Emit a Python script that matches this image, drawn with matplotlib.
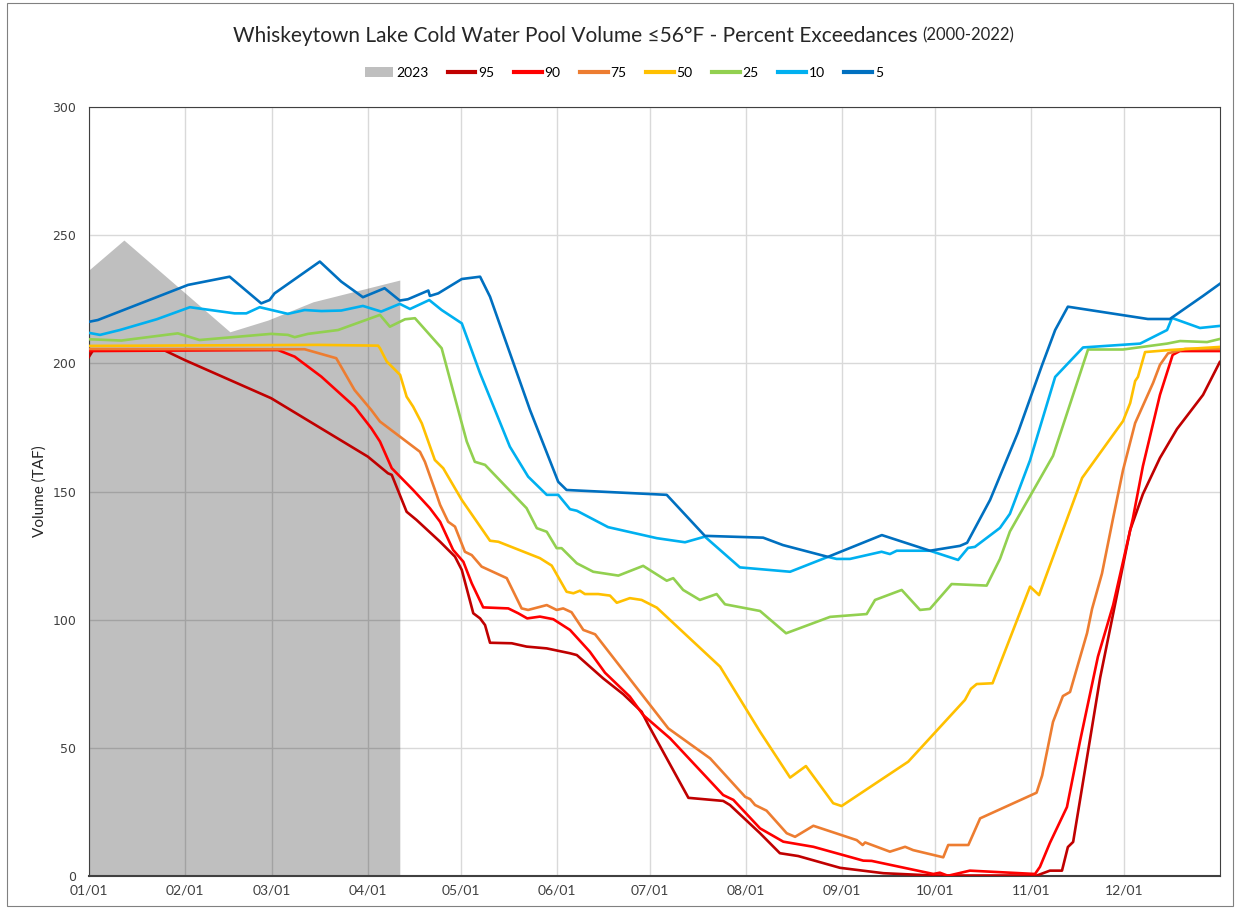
import numpy as np
import matplotlib.pyplot as plt
from matplotlib.patches import Rectangle

plt.rcParams['font.family'] = ['Lato', 'DejaVu Sans']

# x = day of year (0 = Jan 1), y = volume (TAF)
month_days = [0, 31, 59, 90, 120, 151, 181, 212, 243, 273, 304, 334]
month_labels = ['01/01', '02/01', '03/01', '04/01', '05/01', '06/01',
                '07/01', '08/01', '09/01', '10/01', '11/01', '12/01']

d2023 = [0, 11.3, 45.5, 57.8, 72.3, 100.3]
v2023 = [236.4, 248.1, 212.3, 216.9, 224.0, 232.5]

d95 = [0, 1.3, 24.5, 30.9, 58.8, 90.0, 96.5, 97.7, 102.5, 105.7, 113.3, 118.1, 120.3,
       124.0, 126.2, 127.8, 129.4, 136.4, 141.2, 147.7, 155.2, 157.4, 165.9, 172.4,
       178.3, 180.5, 193.4, 204.6, 206.8, 216.5, 222.9, 228.8, 242.3, 256.3, 272.4,
       305.8, 310.0, 313.9, 315.8, 317.5, 326.2, 335.9, 340.0, 345.5, 351.0, 359.4, 364.8]
v95 = [202.5, 205.0, 205.0, 201.3, 186.4, 163.6, 157.1, 156.5, 142.1, 138.9, 130.4, 124.6, 119.4,
       102.5, 100.5, 97.9, 91.0, 90.8, 89.5, 88.8, 86.9, 86.2, 77.1, 70.9,
       64.1, 58.9, 30.5, 29.3, 27.7, 16.7, 8.9, 7.8, 3.2, 1.1, 0.2,
       0.2, 2.1, 2.1, 11.3, 13.3, 77.3, 135.0, 149.0, 163.1, 174.4, 187.7, 200.5]

d90 = [0, 61.0, 66.4, 75.0, 85.7, 91.1, 93.9, 97.7, 104.6, 110.0, 113.3, 117.5, 120.8,
       123.5, 127.2, 135.3, 138.5, 141.4, 145.5, 149.8, 155.2, 161.6, 166.5, 174.5,
       178.8, 187.5, 204.6, 207.9, 216.5, 224.0, 233.7, 249.8, 252.5, 272.4, 274.5,
       277.1, 284.2, 305.2, 306.8, 310.0, 315.5, 319.7, 325.5, 330.4, 336.8, 340.0,
       345.5, 349.6, 351.9, 364.8]
v90 = [204.8, 205.2, 202.6, 194.8, 183.1, 174.7, 169.5, 159.1, 150.6, 143.5, 138.2, 127.2, 122.6,
       114.2, 104.8, 104.4, 102.5, 100.5, 101.2, 100.2, 96.0, 87.5, 79.3, 70.0,
       62.8, 53.7, 31.6, 29.7, 18.6, 13.4, 11.4, 6.0, 5.9, 0.8, 1.3,
       0.1, 2.1, 0.8, 3.6, 12.9, 26.9, 52.5, 85.6, 105.7, 139.7, 159.9,
       187.7, 203.3, 204.8, 204.8]

d75 = [0, 69.6, 79.8, 85.7, 91.1, 93.9, 106.8, 108.4, 112.2, 113.3, 115.9, 118.1, 121.3,
       123.5, 126.7, 134.8, 139.6, 141.7, 147.7, 150.9, 153.0, 155.7, 159.5, 163.3,
       186.9, 200.4, 211.7, 213.3, 214.9, 218.6, 225.1, 227.8, 233.7, 247.7, 249.6,
       250.4, 258.4, 263.3, 265.9, 275.6, 277.2, 283.7, 287.5, 305.7, 307.5, 311.0,
       314.2, 316.5, 322.0, 323.6, 326.8, 330.4, 333.6, 337.5, 343.3, 345.5, 348.1,
       353.6, 364.8]
v75 = [205.6, 205.5, 202.0, 189.6, 181.8, 177.3, 165.5, 161.6, 148.7, 144.8, 138.2, 136.3, 126.5,
       125.2, 120.7, 116.2, 104.4, 103.8, 105.7, 103.8, 104.4, 102.9, 96.0, 94.3,
       57.6, 45.9, 30.9, 30.0, 27.7, 25.5, 16.7, 15.3, 19.6, 14.0, 12.1,
       13.1, 9.5, 11.4, 10.1, 7.3, 12.1, 12.1, 22.5, 32.5, 39.2, 60.1,
       70.2, 71.8, 94.8, 104.2, 118.0, 139.7, 158.4, 176.7, 192.4, 199.4, 203.9,
       205.6, 205.6]

d50 = [0, 73.9, 93.3, 93.9, 96.1, 100.4, 102.5, 104.6, 107.4, 111.6, 114.3, 120.3, 129.4,
       132.1, 145.5, 149.3, 154.1, 156.3, 158.4, 160.0, 164.3, 168.1, 170.3, 174.5,
       178.3, 183.2, 203.6, 216.5, 226.2, 231.3, 240.1, 242.8, 264.3, 282.6, 284.5,
       286.4, 291.5, 303.6, 306.5, 320.4, 333.6, 335.9, 337.5, 338.4, 340.7, 348.7, 364.8]
v50 = [206.8, 207.2, 206.9, 205.9, 200.7, 195.5, 187.0, 183.1, 176.6, 162.3, 159.1, 146.7, 130.8,
       130.4, 124.0, 121.1, 110.9, 110.3, 111.3, 110.0, 110.0, 109.4, 106.6, 108.4,
       107.7, 104.7, 81.7, 56.3, 38.4, 42.9, 28.4, 27.3, 44.6, 68.7, 73.0,
       74.9, 75.2, 112.9, 109.6, 155.3, 177.5, 184.5, 193.1, 194.7, 204.4, 205.2, 206.4]

d25 = [0, 10.5, 28.7, 35.7, 58.8, 64.2, 66.4, 70.7, 80.4, 93.9, 97.1, 102.0, 105.2, 113.8,
       120.3, 121.9, 124.5, 127.8, 141.2, 144.5, 147.7, 150.9, 152.5, 157.4, 162.7,
       170.8, 178.8, 186.4, 188.5, 191.7, 197.1, 202.5, 205.2, 216.5, 224.9, 239.1,
       250.9, 253.6, 262.2, 268.1, 271.3, 278.3, 289.6, 293.9, 297.1, 311.0, 322.3,
       333.6, 347.8, 352.0, 360.7, 364.8]
v25 = [209.4, 208.9, 211.7, 209.1, 211.5, 211.1, 210.2, 211.5, 213.0, 218.9, 214.3, 217.2, 217.6, 205.9,
       176.6, 169.5, 161.6, 160.4, 143.5, 135.7, 134.3, 127.9, 127.9, 122.0, 118.7,
       117.2, 121.0, 115.2, 116.2, 111.6, 107.7, 110.0, 106.0, 103.4, 94.7, 101.1,
       102.2, 107.7, 111.6, 103.8, 104.2, 113.9, 113.3, 123.7, 134.4, 163.9, 205.4,
       205.4, 207.7, 208.7, 208.3, 209.5]

d10 = [0, 3.6, 10.0, 21.9, 32.6, 47.0, 50.8, 55.1, 64.2, 69.6, 75.0, 81.4, 88.4, 94.3,
       100.3, 103.6, 109.8, 113.8, 120.3, 126.2, 135.8, 141.7, 147.7, 151.4, 155.2,
       157.4, 167.5, 183.2, 192.3, 198.7, 210.0, 226.2, 238.4, 241.2, 245.5, 255.7,
       258.4, 260.6, 271.3, 280.4, 283.6, 285.8, 293.9, 297.1, 303.6, 311.7, 320.7,
       339.1, 347.8, 349.4, 358.4, 364.8]
v10 = [211.9, 211.1, 213.0, 217.2, 221.9, 219.5, 219.5, 221.9, 219.3, 220.8, 220.4, 220.6, 222.4, 220.2,
       223.2, 221.2, 224.7, 220.8, 215.6, 196.1, 167.5, 155.8, 148.7, 148.7, 143.1,
       142.5, 136.1, 131.8, 130.2, 132.4, 120.4, 118.7, 124.5, 123.7, 123.7, 126.5,
       125.6, 126.9, 126.9, 123.3, 128.0, 128.4, 135.8, 141.3, 162.2, 194.7, 206.2,
       207.7, 213.0, 217.7, 213.8, 214.6]

d5 = [0, 2.9, 32.0, 45.4, 55.6, 58.3, 59.9, 74.5, 81.4, 88.4, 95.4, 100.3, 102.9, 109.5,
      110.0, 112.7, 120.3, 126.2, 129.4, 142.3, 151.4, 154.1, 186.4, 198.7, 217.5,
      223.9, 238.4, 255.8, 271.3, 281.0, 283.3, 290.7, 299.7, 307.5, 311.7, 315.8,
      341.6, 348.7, 359.4, 364.8]
v5 = [216.2, 216.9, 230.6, 233.8, 223.4, 224.7, 227.3, 239.7, 231.9, 225.8, 229.3, 224.5, 225.0, 228.4,
      226.3, 227.3, 232.9, 233.8, 226.0, 181.8, 153.8, 150.6, 148.7, 132.7, 132.0,
      129.1, 124.5, 133.0, 126.9, 128.8, 130.0, 146.7, 173.0, 199.4, 213.0, 222.1,
      217.3, 217.3, 226.3, 231.0]

fig = plt.figure(figsize=(12.41, 9.13), dpi=100)
ax = fig.add_axes([0.0716, 0.0405, 0.9118, 0.8423])

ax.fill_between(d2023, v2023, 0, color='black', alpha=0.25, lw=0, label='2023', zorder=2)
lw = 1.9
ax.plot(d95, v95, color='#C00000', lw=lw, label='95', zorder=3)
ax.plot(d90, v90, color='#FF0000', lw=lw, label='90', zorder=3)
ax.plot(d75, v75, color='#ED7D31', lw=lw, label='75', zorder=3)
ax.plot(d50, v50, color='#FFC000', lw=lw, label='50', zorder=3)
ax.plot(d25, v25, color='#92D050', lw=lw, label='25', zorder=3)
ax.plot(d10, v10, color='#00B0F0', lw=lw, label='10', zorder=3)
ax.plot(d5, v5, color='#0070C0', lw=lw, label='5', zorder=3)

ax.set_xlim(0, 365)
ax.set_ylim(0, 300)
ax.set_xticks(month_days)
ax.set_xticklabels(month_labels, fontsize=10, color='#404040')
ax.set_yticks(np.arange(0, 301, 50))
ax.set_yticklabels([str(v) for v in range(0, 301, 50)], fontsize=9, family=['DejaVu Sans'],
                   color='#404040')
ax.tick_params(axis='x', length=0, pad=6)
ax.tick_params(axis='y', length=0, pad=9)
ax.grid(True, color='#D9D9D9', lw=1.0, zorder=1)
ax.set_axisbelow(True)
for s in ax.spines.values():
    s.set_color('#404040')
    s.set_linewidth(0.8)
ax.spines['bottom'].set_linewidth(1.5)
ax.set_ylabel('Volume (TAF)', fontsize=11, labelpad=4, color='#262626')

# title: main part plus smaller year range, centred together
W = fig.bbox.width
t1 = fig.text(0, 0.961, 'Whiskeytown Lake Cold Water Pool Volume \u226456\u00b0F - Percent Exceedances ',
              ha='left', va='center', fontsize=15, color='#262626')
t2 = fig.text(0, 0.961, '(2000-2022)', ha='left', va='center', fontsize=12, color='#262626')
fig.canvas.draw()
w1 = t1.get_window_extent().width
w2 = t2.get_window_extent().width
x0 = 623.5 - (w1 + w2) / 2
t1.set_x(x0 / W)
t2.set_x((x0 + w1) / W)

leg = fig.legend(loc='center', bbox_to_anchor=(0.503, 0.920), ncol=8, frameon=False,
                 fontsize=10, handlelength=2.0, handletextpad=0.2, columnspacing=1.4)
for h in leg.legend_handles[1:]:
    h.set_linewidth(3)

fig.patches.append(Rectangle((7 / 1241, 7 / 913), 1226 / 1241, 903 / 913, transform=fig.transFigure,
                             fill=False, edgecolor='#808080', lw=0.8))

plt.savefig('out.png', dpi=100)
